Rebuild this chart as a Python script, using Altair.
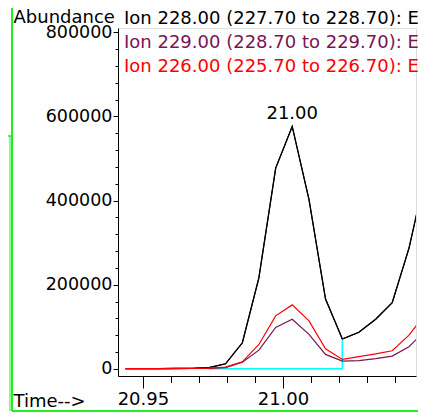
import altair as alt
import pandas as pd

# retention times (min) of the scans
times = [20.9438, 20.9498, 20.9557, 20.9617, 20.9676, 20.9736, 20.9795, 20.9855,
         20.9914, 20.9974, 21.0033, 21.0093, 21.0152, 21.0212, 21.0271, 21.0331,
         21.0390, 21.0450, 21.0509]
ion228 = [500, 600, 700, 900, 1200, 3000, 12000, 62000, 216000, 477000, 576000,
          402000, 166000, 71000, 87000, 118000, 157000, 287000, 462000]
ion229 = [300, 400, 500, 600, 800, 1300, 3000, 16000, 44500, 98600, 118000,
          82000, 34300, 18300, 19500, 24300, 30200, 52400, 92000]
ion226 = [300, 400, 500, 600, 800, 1500, 4000, 16700, 58000, 126000, 152000,
          114000, 47600, 22400, 29000, 35500, 43000, 80000, 131000]

legend_lines = ["Ion 228.00 (227.70 to 228.70): E",
                "Ion 229.00 (228.70 to 229.70): E",
                "Ion 226.00 (225.70 to 226.70): E"]
legend_colors = ["#000000", "#7A1553", "#FF0000"]

peak_time = 21.0033
peak_value = 576000
peak_label = "21.00"

# integration baseline (start, end, end)
base_t = [20.9736, 21.0212, 21.0212]
base_v = [0, 0, 71000]

x_major = [20.95, 21.00]
x_minor = [20.96, 20.97, 20.98, 20.99, 21.01, 21.02, 21.03, 21.04]
y_major = [0, 200000, 400000, 600000, 800000]
y_minor = [40000, 80000, 120000, 160000, 240000, 280000, 320000, 360000,
           440000, 480000, 520000, 560000, 640000, 680000, 720000, 760000]

FONT = "DejaVu Sans"
xs = alt.Scale(domain=[20.9411, 21.0475], nice=False, zero=False)
ys = alt.Scale(domain=[-17000, 810000], nice=False, zero=False)

xaxis = alt.Axis(values=x_major, format=".2f", tickSize=12, tickColor="black",
                 domainColor="black", labelFont=FONT, labelFontSize=18,
                 labelColor="black", labelPadding=2, labelFlush=False,
                 grid=False, title="Time-->", titleFont=FONT, titleFontSize=18,
                 titleFontWeight="normal", titleColor="black", titleAlign="left",
                 titleAnchor="start", titleBaseline="alphabetic", titleX=-105, titleY=30.5)
yaxis = alt.Axis(values=y_major, format="d", tickSize=5, tickColor="black",
                 domainColor="black", labelFont=FONT, labelFontSize=17.5,
                 labelColor="black", labelPadding=1, labelFlush=False, grid=False,
                 title="Abundance", titleFont=FONT, titleFontSize=18,
                 titleFontWeight="normal", titleColor="black", titleAngle=0,
                 titleAlign="left", titleBaseline="alphabetic", titleX=-105, titleY=-6)

def series(vals):
    return pd.DataFrame({"t": times, "v": vals})

def line(vals, color, with_axes=False):
    xe = alt.X("t:Q", scale=xs, axis=xaxis if with_axes else None)
    ye = alt.Y("v:Q", scale=ys, axis=yaxis if with_axes else None)
    return alt.Chart(series(vals)).mark_line(clip=True, strokeWidth=1.2, color=color).encode(x=xe, y=ye)

minor = alt.Chart(series(ion228)).mark_point(opacity=0).encode(
    x=alt.X("t:Q", scale=xs, axis=alt.Axis(values=x_minor, labels=False, tickSize=6.5,
                                           tickColor="black", domain=False, grid=False,
                                           title=None, orient="bottom")),
    y=alt.Y("v:Q", scale=ys, axis=alt.Axis(values=y_minor, labels=False, tickSize=3,
                                           tickColor="black", domain=False, grid=False,
                                           title=None, orient="left")),
)

baseline = alt.Chart(pd.DataFrame({"t": base_t, "v": base_v, "o": [0, 1, 2]})).mark_line(
    color="#00FFFF", strokeWidth=1.5).encode(
    x=alt.X("t:Q", scale=xs, axis=None), y=alt.Y("v:Q", scale=ys, axis=None), order="o:O")

peak = alt.Chart(pd.DataFrame({"t": [peak_time], "v": [peak_value], "s": [peak_label]})).mark_text(
    font=FONT, fontSize=18, color="black", dy=-7, baseline="alphabetic", align="center").encode(
    x=alt.X("t:Q", scale=xs, axis=None), y=alt.Y("v:Q", scale=ys, axis=None), text="s:N")

legend_layers = []
for i, (txt, col) in enumerate(zip(legend_lines, legend_colors)):
    legend_layers.append(
        alt.Chart(pd.DataFrame({"s": [txt]})).mark_text(
            font=FONT, fontSize=18, color=col, align="left", baseline="alphabetic").encode(
            x=alt.value(6), y=alt.value(-4 + 24 * i), text="s:N"))

GREEN = "#22EE22"
frame_df = pd.DataFrame({"a": [0]})
frame = [
    alt.Chart(frame_df).mark_rule(color=GREEN, strokeWidth=2).encode(
        x=alt.value(-106), y=alt.value(-20), y2=alt.value(383)),
    alt.Chart(frame_df).mark_rule(color=GREEN, strokeWidth=2).encode(
        x=alt.value(-106), x2=alt.value(310), y=alt.value(383)),
    alt.Chart(frame_df).mark_rule(color=GREEN, strokeWidth=1.5).encode(
        x=alt.value(-112), x2=alt.value(-106), y=alt.value(108)),
    alt.Chart(frame_df).mark_rule(color=GREEN, strokeWidth=1).encode(
        x=alt.value(-108), y=alt.value(108), y2=alt.value(383)),
]

chart = alt.layer(
    line(ion228, "#000000", with_axes=True),
    minor,
    baseline,
    line(ion228, "#000000"),
    line(ion229, "#7A1553"),
    line(ion226, "#FF0000"),
    peak,
    *legend_layers,
    *frame,
).resolve_axis(x="independent", y="independent").properties(
    width=298, height=348,
    autosize=alt.AutoSizeParams(type="none"),
    padding={"left": 110, "top": 20, "right": 2, "bottom": 36},
).configure_view(stroke=None).configure(background="white")

chart.save("out.html", embed_options={"renderer": "svg", "actions": False})
